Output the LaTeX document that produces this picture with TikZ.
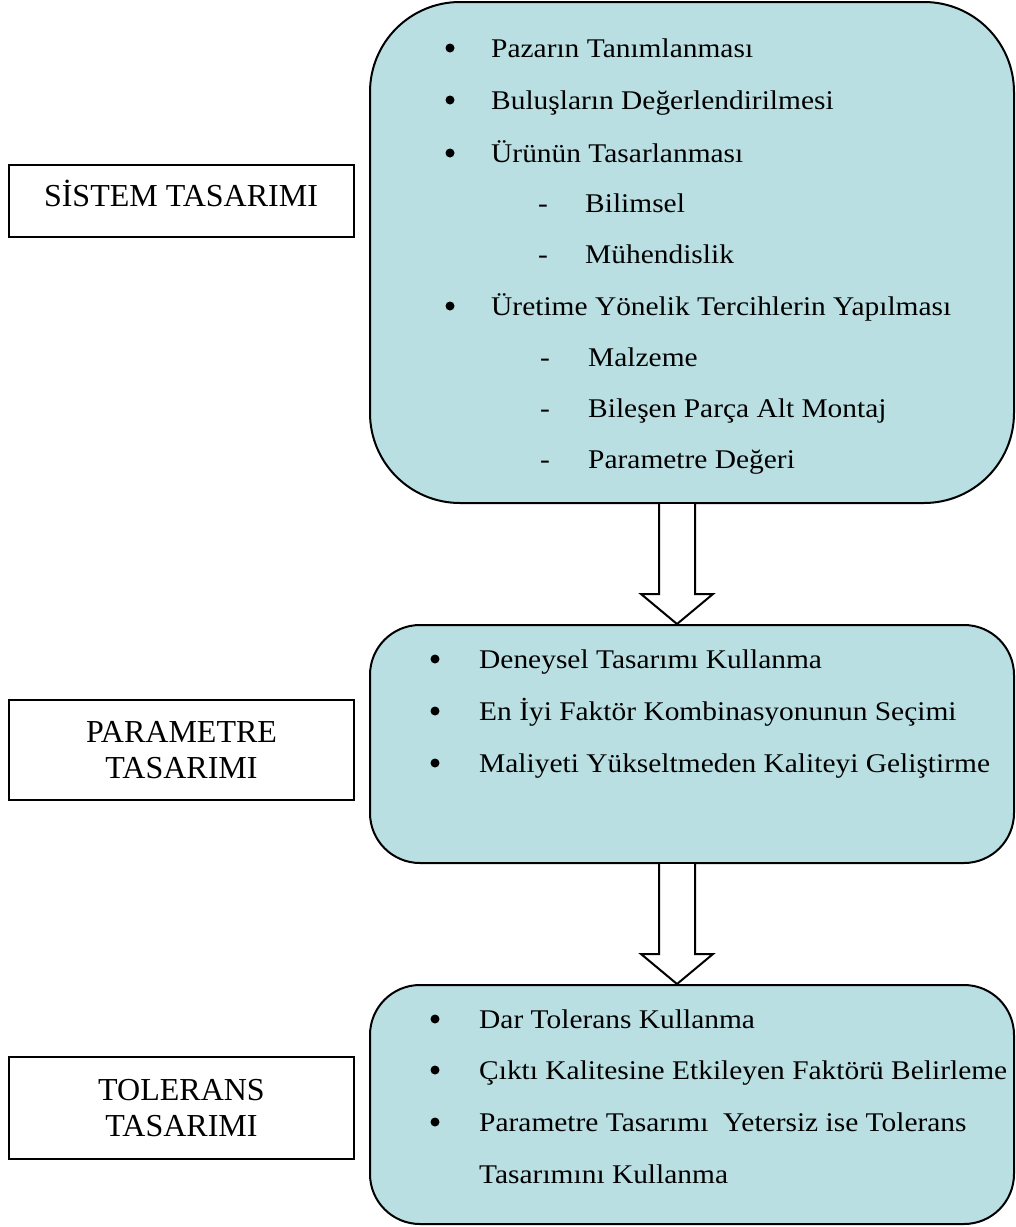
\documentclass[tikz,border=0pt]{standalone}
\usepackage{fontspec}
\setmainfont{Liberation Serif}
\newfontfamily\itemfont[FakeStretch=1.09]{Liberation Serif}
\usetikzlibrary{calc}
\definecolor{panelblue}{RGB}{185,223,227}
\begin{document}
\begin{tikzpicture}[x=1pt,y=-1pt,
  panel/.style={draw=black, line width=2pt, fill=panelblue, minimum width=644pt, inner sep=0pt},
  labelbox/.style={draw=black, line width=1.5pt, fill=white, minimum width=345pt,
    align=center, font=\fontsize{32}{36}\selectfont, inner sep=0pt},
  labeltext/.style={anchor=base, inner sep=0pt, font=\fontsize{32}{36}\selectfont},
  item/.style={anchor=base west, inner sep=0pt, font=\itemfont\fontsize{27}{32}\selectfont},
  dot/.style={circle, fill=black, inner sep=0pt, minimum size=9pt},
  blockarrow/.style={draw=black, line width=2pt, fill=white, line join=miter}
]
\useasboundingbox (0,0) rectangle (1016,1227);

% three phase panels
\node[panel, minimum height=501pt, rounded corners=90pt] (b1) at (692,252.5) {};
\node[panel, minimum height=238pt, rounded corners=50pt] (b2) at (692,744) {};
\node[panel, minimum height=239pt, rounded corners=50pt] (b3) at (692,1104.5) {};

% phase titles
\node[labelbox, minimum height=72pt] (t1) at (181.5,201) {};
\node[labeltext] (t1txt) at (181,206) {SİSTEM TASARIMI};
\node[labelbox, minimum height=100pt] (t2) at (181.5,750) {PARAMETRE\\TASARIMI};
\node[labelbox, minimum height=102pt] (t3) at (181.5,1108) {TOLERANS\\TASARIMI};

% system design items
\node[dot] (p1d) at (450,48) {};
\node[item] (p1)  at (491,57) {Pazarın Tanımlanması};
\node[dot] (p2d) at (450,100) {};
\node[item] (p2)  at (491,109) {Buluşların Değerlendirilmesi};
\node[dot] (p3d) at (450,153) {};
\node[item] (p3)  at (491,162) {Ürünün Tasarlanması};
\node[item] (p3a-) at (538,212) {-};
\node[item] (p3a) at (585,212) {Bilimsel};
\node[item] (p3b-) at (538,263) {-};
\node[item] (p3b) at (585,263) {Mühendislik};
\node[dot] (p4d) at (450,306) {};
\node[item] (p4)  at (491,315) {Üretime Yönelik Tercihlerin Yapılması};
\node[item] (p4a-) at (540,366) {-};
\node[item] (p4a) at (588,366) {Malzeme};
\node[item] (p4b-) at (540,417) {-};
\node[item] (p4b) at (588,417) {Bileşen Parça Alt Montaj};
\node[item] (p4c-) at (540,468) {-};
\node[item] (p4c) at (588,468) {Parametre Değeri};

% parameter design items
\node[dot] (q1d) at (435,659) {};
\node[item] (q1)  at (479,668) {Deneysel Tasarımı Kullanma};
\node[dot] (q2d) at (435,711) {};
\node[item] (q2)  at (479,720) {En İyi Faktör Kombinasyonunun Seçimi};
\node[dot] (q3d) at (435,763) {};
\node[item] (q3)  at (479,772) {Maliyeti Yükseltmeden Kaliteyi Geliştirme};

% tolerance design items
\node[dot] (r1d) at (435,1019) {};
\node[item] (r1)  at (479,1028) {Dar Tolerans Kullanma};
\node[dot] (r2d) at (435,1070) {};
\node[item] (r2)  at (479,1079) {Çıktı Kalitesine Etkileyen Faktörü Belirleme};
\node[dot] (r3d) at (435,1122) {};
\node[item] (r3)  at (479,1131) {Parametre Tasarımı\ \ Yetersiz ise Tolerans};
\node[item] (r3c) at (479,1183) {Tasarımını Kullanma};

% block arrows between panels
\coordinate (a1top) at ($(b1.south)+(-15,0)$);
\coordinate (a1tip) at (a1top |- b2.north);
\draw[blockarrow] ($(a1top)+(-18,0)$) -- ($(a1tip)+(-18,-30)$) -- ($(a1tip)+(-36,-30)$)
  -- (a1tip) -- ($(a1tip)+(36,-30)$) -- ($(a1tip)+(18,-30)$) -- ($(a1top)+(18,0)$);
\coordinate (a2top) at ($(b2.south)+(-15,0)$);
\coordinate (a2tip) at (a2top |- b3.north);
\draw[blockarrow] ($(a2top)+(-18,0)$) -- ($(a2tip)+(-18,-30)$) -- ($(a2tip)+(-36,-30)$)
  -- (a2tip) -- ($(a2tip)+(36,-30)$) -- ($(a2tip)+(18,-30)$) -- ($(a2top)+(18,0)$);
\end{tikzpicture}
\end{document}
